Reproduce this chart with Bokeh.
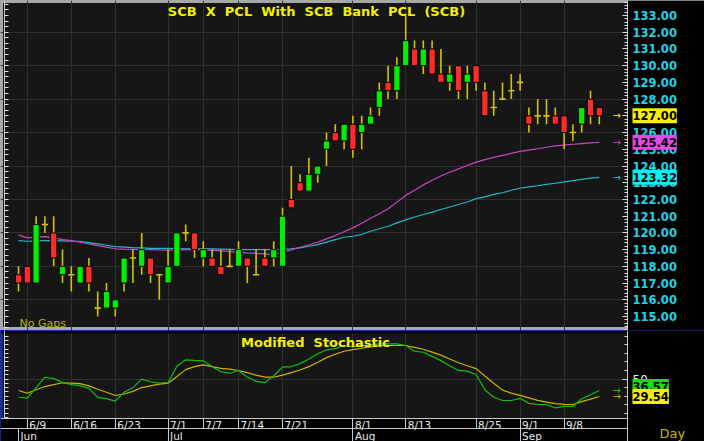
from bokeh.plotting import figure
from bokeh.models import (Range1d, LinearAxis, FixedTicker, SingleIntervalTicker,
                          Label, NumeralTickFormatter, BoxAnnotation)
from bokeh.core.properties import value
from bokeh.layouts import column
from bokeh.embed import file_html
from bokeh.resources import INLINE

# ---------------- data ----------------
dates = ["6/6", "6/9", "6/10", "6/11", "6/12", "6/13", "6/16", "6/17", "6/18", "6/19",
         "6/20", "6/23", "6/24", "6/25", "6/26", "6/27", "6/30", "7/1", "7/2", "7/3",
         "7/4", "7/7", "7/8", "7/9", "7/11", "7/14", "7/15", "7/16", "7/17", "7/18",
         "7/21", "7/22", "7/23", "7/24", "7/25", "7/29", "7/30", "7/31", "8/1", "8/4",
         "8/5", "8/6", "8/7", "8/8", "8/13", "8/14", "8/15", "8/18", "8/19", "8/20",
         "8/21", "8/22", "8/25", "8/26", "8/27", "8/28", "8/29", "9/1", "9/2", "9/3",
         "9/4", "9/5", "9/8", "9/9", "9/10", "9/11", "9/12"]

opens = [117.5, 118, 117, 120.5, 120, 117.5, 117.5, 117, 118, 115.5,
         115.5, 115.5, 117, 118.5, 118, 118.5, 117.5, 117, 118, 120,
         120, 118.5, 118.5, 118, 118, 118, 118.5, 117.5, 118.5, 118.5,
         118, 122, 123, 122.5, 123.5, 125, 126, 125.5, 126.5, 126,
         126.5, 127.5, 129, 128.5, 130, 131, 130, 131, 129.5, 129,
         130, 129, 130, 128.5, 127.5, 128, 128.5, 129, 127, 127,
         127, 127, 127, 126, 126.5, 128, 127.5]
highs = [118, 118, 121, 121, 121, 119, 118, 118, 118.5, 116.5,
         117, 116, 118.5, 119, 120, 118.5, 117.5, 119, 120, 120.5,
         120, 119.5, 119, 119, 119, 119.5, 118.5, 119, 119, 119.5,
         121.5, 124, 123.5, 124.5, 124, 126, 126.5, 126.5, 127, 127,
         127.5, 129, 130, 130.5, 133, 131.5, 131.5, 131.5, 131, 130,
         130, 130, 130, 129, 128.5, 129, 129.5, 129.5, 127.5, 128,
         128, 127.5, 127, 126.5, 127.5, 128.5, 127.5]
lows = [116.5, 117, 117, 120, 118, 117, 116.5, 117, 116.5, 115,
        115.5, 115, 116.5, 117, 117.5, 117, 116, 117, 118, 119.5,
        118.5, 118, 118, 117.5, 118, 118, 117, 117.5, 118, 118,
        118, 121.5, 122.5, 122.5, 123, 124, 125.5, 125, 124.5, 125,
        126.5, 127, 128, 128, 130, 130, 129.5, 129.5, 129, 128.5,
        128, 128, 128.5, 127, 127, 128, 128, 128.5, 126, 126.5,
        126.5, 126.5, 125, 125.5, 126, 126.5, 126.5]
closes = [117, 117, 120.5, 120.5, 118.5, 118, 117.5, 118, 117, 115.5,
          116.5, 116, 118.5, 118.5, 119, 117.5, 117.5, 118, 120, 120,
          119, 119, 118, 117.5, 118, 119, 118, 117.5, 118, 119,
          121, 121.5, 122.5, 123.5, 124, 125.5, 125.5, 126.5, 125, 126.5,
          127, 128.5, 128.5, 130, 131.5, 130, 131, 129.5, 129, 129.5,
          128.5, 129.5, 129, 127, 127.5, 128, 128.5, 129, 126.5, 127,
          127, 126.5, 126, 126, 127.5, 127, 127]

ma_magenta = [119.88, 119.7, 119.75, 119.78, 119.7, 119.6, 119.54, 119.44, 119.34, 119.24,
              119.15, 119.05, 119.03, 119.02, 119.0, 119.0, 118.98, 118.97, 118.98, 119.0,
              119.0, 119.0, 118.96, 118.92, 118.88, 118.84, 118.8, 118.77, 118.74, 118.7,
              118.84, 118.98, 119.14, 119.29, 119.44, 119.64, 119.84, 120.07, 120.3, 120.58,
              120.87, 121.15, 121.44, 121.84, 122.23, 122.55, 122.87, 123.15, 123.4, 123.63,
              123.83, 124.03, 124.23, 124.38, 124.52, 124.64, 124.76, 124.87, 124.95, 125.03,
              125.12, 125.2, 125.25, 125.3, 125.34, 125.38, 125.42]
ma_cyan = [119.54, 119.5, 119.52, 119.54, 119.54, 119.52, 119.5, 119.5, 119.42, 119.34,
           119.26, 119.18, 119.15, 119.12, 119.1, 119.08, 119.07, 119.07, 119.06, 119.05,
           119.05, 119.05, 119.04, 119.03, 119.02, 119.0, 119.0, 119.0, 119.0, 119.0,
           119.0, 119.05, 119.1, 119.2, 119.3, 119.45, 119.6, 119.74, 119.8, 119.9,
           120.1, 120.25, 120.4, 120.6, 120.78, 120.95, 121.1, 121.24, 121.4, 121.55,
           121.7, 121.85, 122.05, 122.15, 122.3, 122.4, 122.55, 122.67, 122.75, 122.82,
           122.9, 122.97, 123.05, 123.12, 123.2, 123.27, 123.32]

stoch_k = [28.7, 27.6, 40, 52.1, 50.5, 46, 43.5, 42.3, 39, 28.5,
           27, 24.1, 34.5, 40, 49.8, 46.8, 45.3, 45.9, 65, 72.5,
           71.8, 71.3, 64.5, 58.5, 56.8, 60, 52.1, 47.3, 45.8, 53.5,
           64, 64.6, 68, 73.5, 79.5, 84, 85.5, 89.2, 87.5, 89,
           90, 91.2, 91.2, 91.2, 89.2, 82.5, 81.3, 76.5, 71.5, 65.5,
           60, 59.2, 55.3, 37.5, 28.7, 24.9, 24.9, 27.4, 21.5, 20.2,
           20.2, 16.3, 17.9, 17.9, 27, 31.5, 36.57]
stoch_d = [36.6, 33.4, 37.5, 41.2, 43.5, 45.6, 45.3, 44.6, 42, 38,
           34.5, 30.7, 32.5, 35.5, 40, 42, 44, 45.1, 53, 61,
           64.5, 66.6, 64.5, 62.5, 61.5, 60, 57.5, 54.5, 52.3, 52.1,
           54.5, 57.5, 60.5, 64.5, 69.7, 75, 79, 82.5, 84.3, 86,
           87.5, 89, 89.2, 89.2, 89.2, 87, 84.8, 81.5, 78, 73.5,
           69, 65.5, 62.2, 53.5, 45, 37, 33.5, 30.8, 28, 25,
           23, 21.2, 20.4, 20.2, 23.5, 26.5, 29.54]

day_tick_labels = ["6/9", "6/16", "6/23", "7/1", "7/7", "7/14", "7/21",
                   "8/1", "8/13", "8/25", "9/1", "9/8"]
month_names = ["Jun", "Jul", "Aug", "Sep"]
month_first_days = ["6/6", "7/1", "8/1", "9/1"]

title_words = ["SCB", "X", "PCL", "With", "SCB", "Bank", "PCL", "(SCB)"]
stoch_words = ["Modified", "Stochastic"]

# ---------------- layout / styling ----------------
FONT = "DejaVu Sans"
BG = "#161616"
GRID = "#2e2e2e"
UP = "#00ee00"
DOWN = "#ff2a2a"
WICK = "#d2c200"
MAGENTA = "#c845c8"
CYAN = "#1fb8c8"
K_COL = "#10c010"
D_COL = "#c8b400"
YELLOW = "#f4f000"
AXIS_COL = "#c8c8c8"
TICK_COL = "#e0e0e0"
GAP = "\u00a0 "      # double spacing as in the reference

W = 704
H1, H2 = 330, 111
BAR0_PX, BAR_PX = 18.0, 8.8          # pixel position of first bar, bar spacing
AXIS_PX = 627.0                      # pixel x of the right axis line
LEFT_AXIS_PX = 4.0

def x_at(px):
    return (px - BAR0_PX) / BAR_PX

n = len(dates)
xs = list(range(n))
day_idx = [dates.index(d) for d in day_tick_labels]
month_idx = [dates.index(d) for d in month_first_days]

xr = Range1d(x_at(0), x_at(W))
x_axis = x_at(AXIS_PX)

# ---------------- price panel ----------------
yr1 = Range1d(114.163, 133.897)
p1 = figure(width=W, height=H1, x_range=xr, y_range=yr1,
            output_backend="svg", toolbar_location=None,
            x_axis_location=None, y_axis_location=None,
            min_border_left=0, min_border_right=0, min_border_top=0, min_border_bottom=0,
            background_fill_color=BG, border_fill_color="#000000",
            outline_line_color="#a8a8a8", outline_line_width=5)

p1.xgrid.ticker = FixedTicker(ticks=day_idx)
p1.ygrid.ticker = SingleIntervalTicker(interval=2)
p1.grid.grid_line_color = GRID
p1.grid.grid_line_width = 1
p1.add_layout(BoxAnnotation(left=x_axis, fill_color="#000000", fill_alpha=1.0,
                            line_alpha=0, level="underlay"))

rax = LinearAxis(fixed_location=x_axis,
                 ticker=SingleIntervalTicker(interval=1, num_minor_ticks=5),
                 formatter=NumeralTickFormatter(format="0.00"),
                 major_label_text_color="#18d8e8", major_label_text_font=FONT,
                 major_label_text_font_style="bold", major_label_text_font_size="11.5px",
                 major_tick_in=5, major_tick_out=0, minor_tick_in=3, minor_tick_out=0,
                 major_tick_line_color=TICK_COL, minor_tick_line_color=TICK_COL,
                 axis_line_color=AXIS_COL, major_label_standoff=5)
p1.add_layout(rax, "right")

lax = LinearAxis(fixed_location=x_at(LEFT_AXIS_PX),
                 ticker=FixedTicker(ticks=[], minor_ticks=[114 + k / 3 for k in range(0, 60)]),
                 minor_tick_in=4, minor_tick_out=0, minor_tick_line_color=TICK_COL,
                 major_tick_in=0, major_tick_out=0, axis_line_color=AXIS_COL)
p1.add_layout(lax, "left")

# moving averages
p1.line(xs, ma_cyan, line_color=CYAN, line_width=1.2)
p1.line(xs, ma_magenta, line_color=MAGENTA, line_width=1.2)

# candles
p1.segment(x0=xs, y0=lows, x1=xs, y1=highs, line_color=WICK, line_width=1.6)
up_i = [i for i in xs if closes[i] > opens[i]]
dn_i = [i for i in xs if closes[i] < opens[i]]
dj_i = [i for i in xs if closes[i] == opens[i]]
p1.vbar(x=up_i, width=0.72, top=[closes[i] for i in up_i], bottom=[opens[i] for i in up_i],
        fill_color=UP, line_color="#000000", line_width=1)
p1.vbar(x=dn_i, width=0.72, top=[opens[i] for i in dn_i], bottom=[closes[i] for i in dn_i],
        fill_color=DOWN, line_color="#000000", line_width=1)
p1.segment(x0=[i - 0.36 for i in dj_i], y0=[opens[i] for i in dj_i],
           x1=[i + 0.36 for i in dj_i], y1=[opens[i] for i in dj_i],
           line_color=WICK, line_width=1.6)

p1.add_layout(Label(x=316, y=H1 - 3, x_units="screen", y_units="screen",
                    text=GAP.join(title_words),
                    text_font=FONT, text_font_style="bold", text_font_size="13px",
                    text_color=YELLOW, text_align="center", text_baseline="top"))
p1.add_layout(Label(x=19, y=H1 - 323, x_units="screen", y_units="screen", text="No Gaps",
                    text_font=FONT, text_font_size="11px", text_color="#b4b400",
                    text_align="left", text_baseline="alphabetic"))

def value_box(fig, yval, bg, arrow_col, y_off=0):
    fig.add_layout(Label(x=612, y=yval, x_units="screen", y_units="data", text="\u2192",
                         text_font=FONT, text_font_size="10px", text_color=arrow_col,
                         text_align="left", text_baseline="middle"))
    fig.add_layout(Label(x=632, y=yval, x_units="screen", y_units="data",
                         y_offset=y_off, text=f"{yval:.2f}",
                         text_font=FONT, text_font_style="bold", text_font_size="11.5px",
                         text_color="#000000", text_align="left", text_baseline="middle",
                         background_fill_color=bg, padding=(0, 3)))

value_box(p1, closes[-1], YELLOW, YELLOW)
value_box(p1, ma_magenta[-1], "#e24ae2", MAGENTA)
value_box(p1, ma_cyan[-1], "#00f4f4", CYAN)

# ---------------- stochastic panel ----------------
yr2 = Range1d(-23.08, 106.75)
def y2_at(px):   # data value at a page pixel row of the lower panel
    return yr2.end - (px - H1) * (yr2.end - yr2.start) / H2

p2 = figure(width=W, height=H2, x_range=xr, y_range=yr2,
            output_backend="svg", toolbar_location=None,
            x_axis_location=None, y_axis_location=None,
            min_border_left=0, min_border_right=0, min_border_top=0, min_border_bottom=0,
            background_fill_color=BG, border_fill_color="#000000",
            outline_line_color="#1c30b0", outline_line_width=4)

p2.xgrid.ticker = FixedTicker(ticks=day_idx)
p2.ygrid.ticker = FixedTicker(ticks=[50])
p2.grid.grid_line_color = GRID
date_top = y2_at(418)
p2.add_layout(BoxAnnotation(left=x_axis, fill_color="#000000", fill_alpha=1.0,
                            line_alpha=0, level="underlay"))
p2.add_layout(BoxAnnotation(top=date_top, fill_color="#000000", fill_alpha=1.0,
                            line_alpha=0, level="underlay"))
p2.add_layout(BoxAnnotation(bottom=y2_at(333), fill_color="#000000", fill_alpha=1.0,
                            line_alpha=0, level="underlay"))

rax2 = LinearAxis(fixed_location=x_axis,
                  ticker=FixedTicker(ticks=[50], minor_ticks=[10, 20, 30, 40, 60, 70, 80, 90, 100]),
                  major_label_text_color="#f0f0f0", major_label_text_font=FONT,
                  major_label_text_font_size="12px",
                  major_tick_in=5, major_tick_out=0, minor_tick_in=3, minor_tick_out=0,
                  major_tick_line_color=TICK_COL, minor_tick_line_color=TICK_COL,
                  axis_line_color=AXIS_COL, major_label_standoff=5)
p2.add_layout(rax2, "right")

lax2 = LinearAxis(fixed_location=x_at(LEFT_AXIS_PX), bounds=(date_top, yr2.end),
                  ticker=FixedTicker(ticks=[], minor_ticks=[5 * k for k in range(1, 21)]),
                  minor_tick_in=4, minor_tick_out=0, minor_tick_line_color=TICK_COL,
                  major_tick_in=0, major_tick_out=0, axis_line_color=AXIS_COL)
p2.add_layout(lax2, "left")

# date rows: day separators / axis line, month separators / axis line
dax = LinearAxis(fixed_location=date_top, bounds=(xr.start, x_axis),
                 ticker=FixedTicker(ticks=[], minor_ticks=day_idx),
                 minor_tick_out=10, minor_tick_in=0, minor_tick_line_color=AXIS_COL,
                 major_tick_in=0, major_tick_out=0, axis_line_color=AXIS_COL)
p2.add_layout(dax, "below")
max_ = LinearAxis(fixed_location=y2_at(428), bounds=(xr.start, x_axis),
                  ticker=FixedTicker(ticks=[], minor_ticks=month_idx),
                  minor_tick_out=14, minor_tick_in=0, minor_tick_line_color=AXIS_COL,
                  major_tick_in=0, major_tick_out=0, axis_line_color=AXIS_COL)
p2.add_layout(max_, "below")

p2.text(x=day_idx, y=[y2_at(424.5)] * len(day_idx), text=day_tick_labels,
        x_offset=2, text_font=value(FONT), text_font_size="10.5px",
        text_color="#e8e8e8", text_align="left", text_baseline="middle")
p2.text(x=month_idx, y=[y2_at(435)] * len(month_idx), text=month_names,
        x_offset=2, text_font=value(FONT), text_font_size="10.5px",
        text_color="#e8e8e8", text_align="left", text_baseline="middle")

p2.line(xs, stoch_d, line_color=D_COL, line_width=1.2)
p2.line(xs, stoch_k, line_color=K_COL, line_width=1.2)

p2.add_layout(Label(x=315, y=H2 - 4, x_units="screen", y_units="screen",
                    text=GAP.join(stoch_words),
                    text_font=FONT, text_font_style="bold", text_font_size="13px",
                    text_color=YELLOW, text_align="center", text_baseline="top"))
p2.add_layout(Label(x=659, y=441 - 433, x_units="screen", y_units="screen", text="Day",
                    text_font=FONT, text_font_size="13px", text_color="#c8b400",
                    text_align="left", text_baseline="alphabetic"))

value_box(p2, stoch_k[-1], "#10e010", "#10d010", y_off=4)
value_box(p2, stoch_d[-1], YELLOW, D_COL)

layout = column(p1, p2, spacing=0)
open("out.html", "w").write(file_html(layout, INLINE))
